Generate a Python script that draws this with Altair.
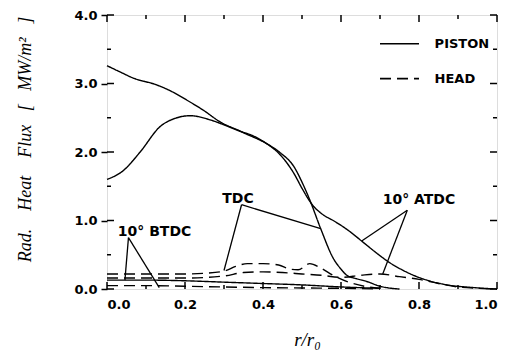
import altair as alt
import pandas as pd

# ---- data ----
# 10 deg ATDC, piston (solid, starts at 3.25)
atdc_p_r = [0.0, 0.033, 0.067, 0.127, 0.16, 0.204, 0.247, 0.29, 0.34, 0.384, 0.41, 0.444, 0.48, 0.5, 0.525, 0.555, 0.58, 0.62, 0.653, 0.69, 0.726, 0.76, 0.79, 0.82, 0.854, 0.89, 0.92, 0.96, 1.0]
atdc_p_q = [3.26, 3.17, 3.08, 2.98, 2.90, 2.76, 2.61, 2.44, 2.31, 2.21, 2.12, 1.96, 1.68, 1.47, 1.24, 1.08, 1.00, 0.85, 0.70, 0.53, 0.38, 0.27, 0.19, 0.13, 0.08, 0.045, 0.03, 0.012, 0.0]
# TDC, piston (solid, starts at 1.6)
tdc_p_r = [0.0, 0.04, 0.085, 0.136, 0.174, 0.213, 0.264, 0.307, 0.358, 0.41, 0.444, 0.48, 0.5, 0.52, 0.548, 0.58, 0.6, 0.615, 0.64, 0.666, 0.70, 0.73, 0.75]
tdc_p_q = [1.60, 1.72, 2.00, 2.37, 2.49, 2.53, 2.47, 2.38, 2.26, 2.12, 1.99, 1.78, 1.56, 1.30, 0.88, 0.45, 0.29, 0.20, 0.15, 0.11, 0.04, 0.01, 0.0]
# 10 deg BTDC, piston (solid, low)
btdc_p_r = [0.0, 0.1, 0.2, 0.3, 0.4, 0.5, 0.6, 0.7]
btdc_p_q = [0.13, 0.13, 0.12, 0.10, 0.08, 0.06, 0.03, 0.01]
# TDC, head (dashed)
tdc_h_r = [0.0, 0.1, 0.2, 0.25, 0.3, 0.33, 0.36, 0.4, 0.44, 0.47, 0.49, 0.52, 0.55, 0.58, 0.62, 0.66, 0.7]
tdc_h_q = [0.22, 0.22, 0.22, 0.23, 0.26, 0.33, 0.37, 0.37, 0.35, 0.29, 0.28, 0.37, 0.30, 0.20, 0.10, 0.04, 0.01]
# 10 deg ATDC, head (dashed)
atdc_h_r = [0.0, 0.1, 0.2, 0.3, 0.35, 0.4, 0.45, 0.5, 0.55, 0.6, 0.65, 0.7, 0.75, 0.8, 0.85, 0.9, 0.95, 1.0]
atdc_h_q = [0.16, 0.16, 0.16, 0.19, 0.24, 0.25, 0.24, 0.22, 0.20, 0.17, 0.20, 0.22, 0.18, 0.14, 0.08, 0.03, 0.01, 0.0]
# 10 deg BTDC, head (dashed)
btdc_h_r = [0.0, 0.1, 0.2, 0.3, 0.4, 0.5, 0.6, 0.7]
btdc_h_q = [0.05, 0.05, 0.04, 0.03, 0.02, 0.015, 0.01, 0.0]

# annotation labels and leader lines (data coordinates)
label_text = ["TDC", "10° ATDC", "10° BTDC"]
label_r = [0.336, 0.80, 0.122]
label_q = [1.31, 1.30, 0.83]
leader_r1 = [0.345, 0.345, 0.77, 0.77, 0.055, 0.055]
leader_q1 = [1.23, 1.23, 1.15, 1.15, 0.75, 0.75]
leader_r2 = [0.548, 0.30, 0.653, 0.707, 0.046, 0.134]
leader_q2 = [0.88, 0.27, 0.70, 0.22, 0.13, 0.02]

# legend entries
legend_names = ["PISTON", "HEAD"]
legend_kind = ["piston", "head"]
legend_q = [3.58, 3.07]
legend_r1 = [0.70, 0.70]
legend_r2 = [0.80, 0.80]
legend_rt = [0.84, 0.84]

x_major = [0.0, 0.2, 0.4, 0.6, 0.8, 1.0]
x_minor = [0.1, 0.3, 0.5, 0.7, 0.9]
y_major = [0.0, 1.0, 2.0, 3.0, 4.0]
y_minor = [0.5, 1.5, 2.5, 3.5]

W, H = 390, 274
NB = "\u00a0"
y_title = "Rad." + NB * 4 + "Heat" + NB * 4 + "Flux" + NB * 3 + "[" + NB * 3 + "MW/m²" + NB * 3 + "]"

rows = []
for name, kind, rs, qs in [
    ("atdc_p", "piston", atdc_p_r, atdc_p_q),
    ("tdc_p", "piston", tdc_p_r, tdc_p_q),
    ("btdc_p", "piston", btdc_p_r, btdc_p_q),
    ("tdc_h", "head", tdc_h_r, tdc_h_q),
    ("atdc_h", "head", atdc_h_r, atdc_h_q),
    ("btdc_h", "head", btdc_h_r, btdc_h_q),
]:
    for i, (r, q) in enumerate(zip(rs, qs)):
        rows.append({"x": r, "y": q, "curve": name, "kind": kind, "i": i})
curves = pd.DataFrame(rows)

xs = alt.Scale(domain=[0, 1], nice=False, zero=False)
ys = alt.Scale(domain=[0, 4], nice=False, zero=False)
dash = alt.Scale(domain=["piston", "head"], range=[[1, 0], [11, 6]])

LBL_FONT = "DejaVu Sans"

xaxis = alt.Axis(values=x_major, format=".1f", ticks=False, domain=False, grid=False,
                 labelFont=LBL_FONT, labelFontWeight="bold", labelFontSize=13,
                 labelColor="black", labelPadding=9, title="r/r₀",
                 titleFont="Liberation Serif", titleFontStyle="italic", titleFontWeight="normal",
                 titleFontSize=19, titleColor="black", titleX=200, titleY=56,
                 titleBaseline="alphabetic", titleAlign="center")
yaxis = alt.Axis(values=y_major, format=".1f", ticks=True, tickSize=6, tickColor="black",
                 tickWidth=1.5, domain=False, grid=False,
                 labelFont=LBL_FONT, labelFontWeight="bold", labelFontSize=13,
                 labelColor="black", labelPadding=4,
                 title=y_title,
                 titleFont="Liberation Serif", titleFontStyle="italic", titleFontWeight="normal",
                 titleFontSize=18, titleColor="black", titleX=-82, titleY=124,
                 titleAngle=-90, titleBaseline="middle", titleAlign="center")

lines = alt.Chart(curves).mark_line(color="black", strokeWidth=1.4, interpolate="monotone").encode(
    x=alt.X("x:Q", scale=xs, axis=xaxis),
    y=alt.Y("y:Q", scale=ys, axis=yaxis),
    strokeDash=alt.StrokeDash("kind:N", scale=dash, legend=None),
    detail="curve:N",
    order="i:Q",
)

labels_df = pd.DataFrame({"x": label_r, "y": label_q, "t": label_text})
labels = alt.Chart(labels_df).mark_text(font=LBL_FONT, fontWeight="bold", fontSize=14,
                                        color="black", align="center", baseline="middle").encode(
    x=alt.X("x:Q", scale=xs), y=alt.Y("y:Q", scale=ys), text="t:N")

lead_df = pd.DataFrame({"x": leader_r1, "y": leader_q1, "x2": leader_r2, "y2": leader_q2})
leaders = alt.Chart(lead_df).mark_rule(color="black", strokeWidth=1.3).encode(
    x=alt.X("x:Q", scale=xs), y=alt.Y("y:Q", scale=ys), x2="x2:Q", y2="y2:Q")

leg_df = pd.DataFrame({"x": legend_r1, "x2": legend_r2, "xt": legend_rt, "y": legend_q,
                       "t": legend_names, "kind": legend_kind})
leg_lines = alt.Chart(leg_df).mark_rule(color="black", strokeWidth=1.7).encode(
    x=alt.X("x:Q", scale=xs), x2="x2:Q", y=alt.Y("y:Q", scale=ys),
    strokeDash=alt.StrokeDash("kind:N", scale=dash, legend=None))
leg_text = alt.Chart(leg_df).mark_text(font=LBL_FONT, fontWeight="bold", fontSize=13,
                                       color="black", align="left", baseline="middle").encode(
    x=alt.X("xt:Q", scale=xs), y=alt.Y("y:Q", scale=ys), text="t:N")

# inward frame ticks
def xticks(vals, length):
    df = pd.DataFrame({"x": vals})
    bot = alt.Chart(df).mark_rule(color="black", strokeWidth=1.5).encode(
        x=alt.X("x:Q", scale=xs), y=alt.value(H), y2=alt.value(H - length))
    top = alt.Chart(df).mark_rule(color="black", strokeWidth=1.5).encode(
        x=alt.X("x:Q", scale=xs), y=alt.value(0), y2=alt.value(length))
    return [bot, top]

def yticks(vals, length):
    df = pd.DataFrame({"y": vals})
    left = alt.Chart(df).mark_rule(color="black", strokeWidth=1.5).encode(
        y=alt.Y("y:Q", scale=ys), x=alt.value(0), x2=alt.value(length))
    right = alt.Chart(df).mark_rule(color="black", strokeWidth=1.5).encode(
        y=alt.Y("y:Q", scale=ys), x=alt.value(W), x2=alt.value(W - length))
    return [left, right]

tick_layers = xticks(x_major, 7) + xticks(x_minor, 4) + yticks(y_major, 7) + yticks(y_minor, 4)

chart = alt.layer(lines, leaders, labels, leg_lines, leg_text, *tick_layers).properties(
    width=W, height=H,
    autosize=alt.AutoSizeParams(type="none"),
    padding={"left": 99, "top": 7, "right": 19, "bottom": 63},
).configure_view(stroke="black", strokeWidth=1.8).configure(background="white")

chart.save("out.html", embed_options={"renderer": "svg", "actions": False})
